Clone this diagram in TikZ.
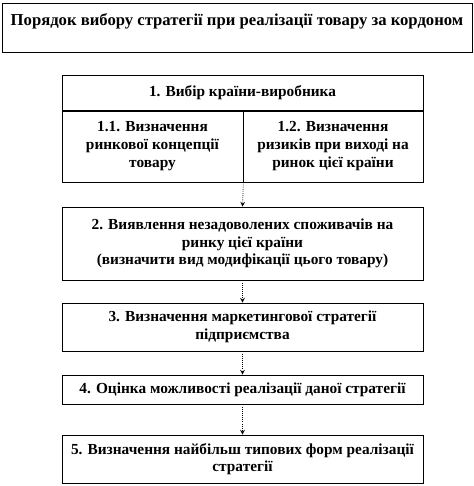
\documentclass[tikz,border=0pt]{standalone}
\usepackage{fontspec}
\setmainfont{Liberation Serif}
\begin{document}
\begin{tikzpicture}[x=0.75pt, y=-0.75pt, >=stealth, every node/.style={draw, line width=0.6pt, align=center, inner sep=2pt, font=\bfseries\fontsize{11.5}{13.2}\selectfont}, link/.style={->, densely dotted, line width=0.6pt}]
\useasboundingbox (0,0) rectangle (474,486);
\node[minimum width=352.5pt, minimum height=36.75pt] (title) at (237,27.5) {};
\node[draw=none, font=\bfseries\fontsize{12.5}{14}\selectfont] (titletext) at (237,21) {Порядок вибору стратегії при реалізації товару за кордоном};
\node[minimum width=270.75pt, minimum height=27pt] (h1) at (242.5,93) {1. Вибір країни-виробника};
\node[minimum width=135.75pt, minimum height=54pt] (s11) at (152.5,146) {1.1. Визначення\\ринкової концепції\\товару};
\node[minimum width=135pt, minimum height=54pt] (s12) at (333,146) {1.2. Визначення\\ризиків при виході на\\ринок цієї країни};
\node[minimum width=270.75pt, minimum height=54.75pt] (b2) at (242.5,243.5) {2. Виявлення незадоволених споживачів на\\ринку цієї країни\\(визначити вид модифікації цього товару)};
\node[minimum width=270.75pt, minimum height=36pt] (b3) at (242.5,327) {3. Визначення маркетингової стратегії\\підприємства};
\node[minimum width=270.75pt, minimum height=21.75pt] (b4) at (242.5,389.5) {4. Оцінка можливості реалізації даної стратегії};
\node[minimum width=270.75pt, minimum height=36pt] (b5) at (242.5,459) {5. Визначення найбільш типових форм реалізації\\стратегії};
\draw[link] (s11.south east) -- (b2.north);
\draw[link] (b2) -- (b3);
\draw[link] (b3) -- (b4);
\draw[link] (b4) -- (b5);
\end{tikzpicture}
\end{document}
